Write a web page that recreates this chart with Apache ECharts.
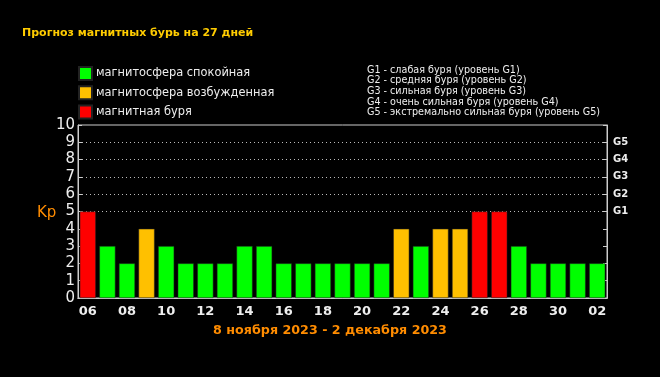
<!DOCTYPE html>
<html>
<head>
<meta charset="utf-8">
<script src="https://cdn.jsdelivr.net/npm/echarts@6/dist/echarts.min.js"></script>
<style>
  html, body { margin: 0; padding: 0; background: #000; }
  #chart { width: 660px; height: 377px; }
</style>
</head>
<body>
<div id="chart"></div>
<script>
// days of the forecast (8 Nov 2023 - 2 Dec 2023, axis starts at 06)
const days = ['06','07','08','09','10','11','12','13','14','15','16','17','18','19','20',
  '21','22','23','24','25','26','27','28','29','30','01','02']
const kp = [5,3,2,4,3,2,2,2,3,3,2,2,2,2,2,2,4,3,4,4,5,5,3,2,2,2,2]
const yTicks = [0,1,2,3,4,5,6,7,8,9,10]
const gLabels = { 5: 'G1', 6: 'G2', 7: 'G3', 8: 'G4', 9: 'G5' }
const levelNames = ['магнитосфера спокойная', 'магнитосфера возбужденная', 'магнитная буря']
const levelColors = ['#00ff00', '#ffc000', '#ff0000']
const gLegend = [
  'G1 - слабая буря (уровень G1)',
  'G2 - средняя буря (уровень G2)',
  'G3 - сильная буря (уровень G3)',
  'G4 - очень сильная буря (уровень G4)',
  'G5 - экстремально сильная буря (уровень G5)'
]

const levelOf = v => v >= 5 ? 2 : (v >= 4 ? 1 : 0)

const series = levelNames.map((name, li) => ({
  name,
  type: 'bar',
  stack: 'kp',
  barCategoryGap: '18%',
  itemStyle: { color: levelColors[li], borderColor: '#222', borderWidth: 0.5 },
  data: kp.map(v => levelOf(v) === li ? v : '-')
}))

const myChart = echarts.init(document.getElementById('chart'))

const gridColors = yTicks.map(t => (t >= 5 && t < 10) ? '#bbbbbb' : 'rgba(0,0,0,0)')

const option = {
  backgroundColor: '#000',
  animation: false,
  title: {
    text: 'Прогноз магнитных бурь на 27 дней',
    left: 22, top: 28, padding: 0,
    textStyle: { color: '#ffcc00', fontSize: 11, fontWeight: 'bold', fontFamily: 'DejaVu Sans' }
  },
  legend: {
    orient: 'vertical',
    left: 78, top: 66, padding: 0,
    itemWidth: 13, itemHeight: 13, itemGap: 4.3,
    icon: 'rect',
    data: levelNames,
    selectedMode: false,
    textStyle: { color: '#eeeeee', fontSize: 11.4, fontFamily: 'DejaVu Sans', padding: [0, 0, 0, -1] }
  },
  graphic: [
    {
      type: 'text', left: 367, top: 65,
      style: {
        text: gLegend.join('\n'),
        fill: '#eeeeee', font: '9.6px "DejaVu Sans"', lineHeight: 10.6
      }
    },
    {
      type: 'text', left: 37, top: 206,
      style: { text: 'Kp', fill: '#ff8c00', font: '15px "DejaVu Sans"' }
    },
    {
      type: 'text', left: 'center', top: 324,
      style: { text: '8 ноября 2023 - 2 декабря 2023', fill: '#ff8c00', font: 'bold 12.7px "DejaVu Sans"' }
    }
  ],
  grid: { left: 78, right: 53, top: 125, bottom: 79, show: true, borderColor: '#cccccc', borderWidth: 1 },
  xAxis: [
    {
      type: 'category', data: days, position: 'bottom',
      axisLine: { lineStyle: { color: '#cccccc' } },
      axisTick: { inside: true, length: 4, interval: 0, lineStyle: { color: '#cccccc' } },
      axisLabel: { interval: 1, color: '#eeeeee', fontSize: 13, fontWeight: 'bold', fontFamily: 'DejaVu Sans', margin: 7 }
    },
    {
      type: 'category', data: days, position: 'top',
      axisLine: { lineStyle: { color: '#cccccc' } },
      axisTick: { inside: true, length: 4, interval: 0, lineStyle: { color: '#cccccc' } },
      axisLabel: { show: false }
    }
  ],
  yAxis: [
    {
      type: 'value', min: 0, max: 10, interval: 1, position: 'left',
      axisLine: { show: true, lineStyle: { color: '#cccccc' } },
      axisTick: { show: true, inside: true, length: 4, lineStyle: { color: '#cccccc' } },
      axisLabel: { color: '#eeeeee', fontSize: 15, fontFamily: 'DejaVu Sans', margin: 3, lineHeight: 15 },
      splitLine: { show: true, lineStyle: { color: gridColors, type: [1, 3], width: 1 } }
    },
    {
      type: 'value', min: 0, max: 10, interval: 1, position: 'right',
      axisLine: { show: true, lineStyle: { color: '#cccccc' } },
      axisTick: { show: true, inside: true, length: 4, lineStyle: { color: '#cccccc' } },
      axisLabel: {
        color: '#eeeeee', fontSize: 10, fontWeight: 'bold', fontFamily: 'DejaVu Sans', margin: 6,
        formatter: v => gLabels[v] || ''
      },
      splitLine: { show: false }
    }
  ],
  series
}

myChart.setOption(option)
window.addEventListener('resize', () => myChart.resize())
</script>
</body>
</html>
